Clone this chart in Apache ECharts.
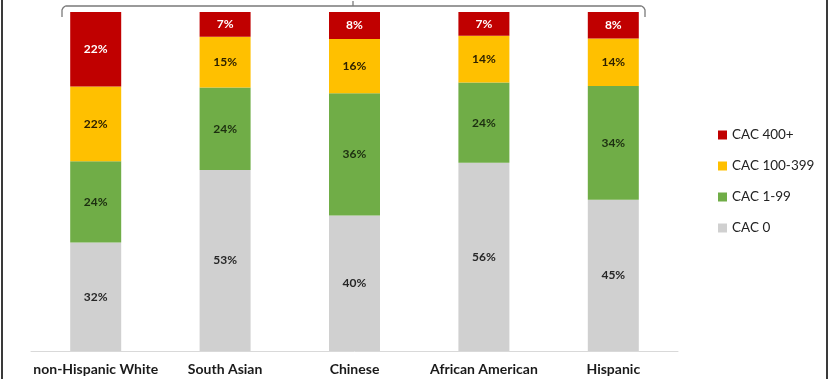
<!DOCTYPE html>
<html>
<head>
<meta charset="utf-8">
<script src="https://cdn.jsdelivr.net/npm/echarts@6/dist/echarts.min.js"></script>
<style>
  html, body { margin: 0; padding: 0; background: #fff; }
  #chart { width: 831px; height: 379px; }
</style>
</head>
<body>
<div id="chart"></div>
<script>
// categories and stacked shares (%)
const groups = ['non-Hispanic White', 'South Asian', 'Chinese', 'African American', 'Hispanic']
const cac0 = [32, 53.4, 40, 55.5, 44.6]
const cac1to99 = [24, 24.3, 36, 23.7, 33.6]
const cac100to399 = [22, 15, 16, 13.8, 14]
const cac400plus = [22, 7.3, 8, 7, 7.8]
const seriesNames = ['CAC 0', 'CAC 1-99', 'CAC 100-399', 'CAC 400+']
const seriesColors = ['#d0d0d0', '#70ad47', '#ffc000', '#c00000']
const labelColors = ['#262626', '#1c2e10', '#2e2100', '#ffffff']

const chart = echarts.init(document.getElementById('chart'))

const makeSeries = (name, data, i) => ({
  name: name,
  type: 'bar',
  stack: 'cac',
  barWidth: 51,
  data: data,
  itemStyle: { color: seriesColors[i] },
  label: {
    show: true,
    position: 'inside',
    fontFamily: 'Lato',
    fontWeight: 'bold',
    fontSize: 12,
    color: labelColors[i],
    formatter: p => Math.round(p.value) + '%'
  }
})

chart.setOption({
  animation: false,
  grid: { left: 31, right: 153, top: 12, bottom: 28 },
  xAxis: {
    type: 'category',
    data: groups,
    axisLine: { lineStyle: { color: '#d9d9d9', width: 1 } },
    axisTick: { show: false },
    axisLabel: {
      interval: 0,
      margin: 11,
      fontFamily: 'Lato',
      fontWeight: 'bold',
      fontSize: 14,
      color: '#1a1a1a'
    }
  },
  yAxis: {
    type: 'value',
    min: 0,
    max: 100,
    show: false
  },
  legend: {
    orient: 'vertical',
    left: 713,
    top: 123,
    itemWidth: 9,
    itemHeight: 9,
    itemGap: 17,
    icon: 'rect',
    data: ['CAC 400+', 'CAC 100-399', 'CAC 1-99', 'CAC 0'],
    textStyle: { fontFamily: 'Lato', fontSize: 13.5, color: '#222' }
  },
  series: [
    makeSeries(seriesNames[0], cac0, 0),
    makeSeries(seriesNames[1], cac1to99, 1),
    makeSeries(seriesNames[2], cac100to399, 2),
    makeSeries(seriesNames[3], cac400plus, 3)
  ],
  graphic: [
    // frame edges
    { type: 'rect', shape: { x: 1, y: 0, width: 2, height: 379 }, style: { fill: '#3a3a3a' } },
    { type: 'rect', shape: { x: 826, y: 0, width: 2, height: 379 }, style: { fill: '#3a3a3a' } },
    // bracket over the bars
    {
      type: 'polyline',
      shape: { points: [[62, 17], [62, 10], [63, 8], [64.5, 6.5], [66, 6], [641, 6], [642.5, 6.5], [644, 8], [645, 10], [645, 17]] },
      style: { fill: 'none', stroke: '#7a7a7a', lineWidth: 1.3 }
    },
    { type: 'line', shape: { x1: 353, y1: 6, x2: 353, y2: 1 }, style: { stroke: '#7a7a7a', lineWidth: 1.3 } }
  ]
})
</script>
</body>
</html>
